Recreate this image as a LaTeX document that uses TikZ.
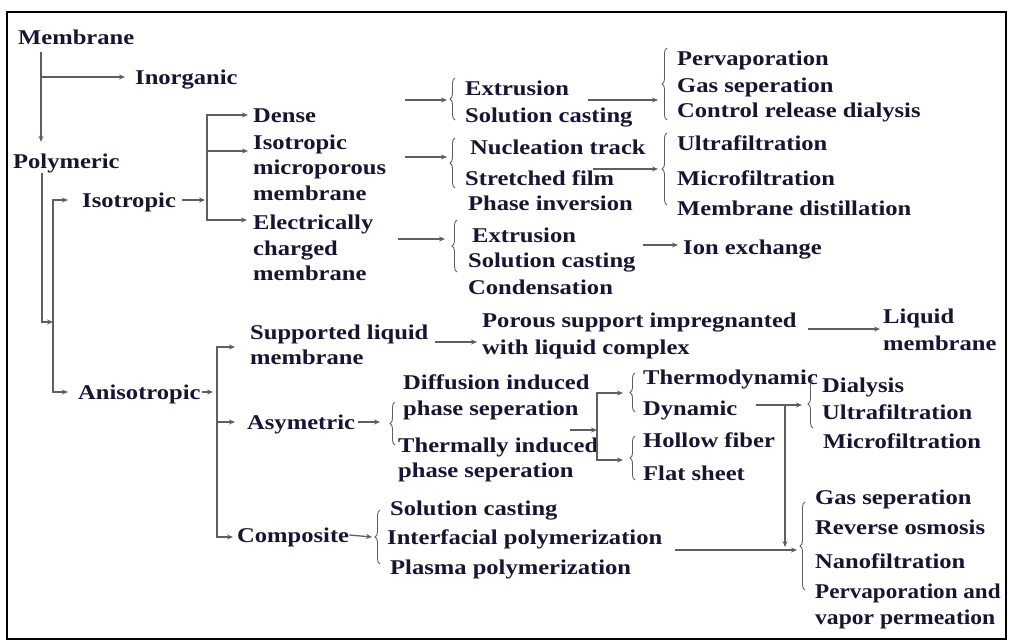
\documentclass[tikz,border=0pt]{standalone}
\usepackage{fontspec}
\setmainfont[FakeStretch=1.17]{Liberation Serif}
\usetikzlibrary{arrows.meta,decorations.pathreplacing,calc}
\definecolor{txt}{RGB}{22,22,48}
\definecolor{ln}{RGB}{95,95,95}
\begin{document}
\begin{tikzpicture}[x=1pt,y=-1pt,
  lbl/.style={anchor=west, inner sep=0pt, text height=14pt, text depth=0pt,
    font=\fontsize{21}{25}\selectfont\bfseries, text=txt},
  arr/.style={draw=ln, line width=1.3pt, -{Stealth[length=6pt,width=5pt]}},
  brc/.style={draw=ln, line width=0.9pt, decorate, decoration={brace, amplitude=5pt}}]
\useasboundingbox (0,0) rectangle (1010,641);
\fill[white] (0,0) rectangle (1010,641);
\draw[line width=2.5pt, black] (7,12) rectangle (1006,639);

% ---- nodes ----
\node[lbl] (memb) at (18,37) {Membrane};
\node[lbl] (inorg) at (135,77) {Inorganic};
\node[lbl] (poly) at (13,161) {Polymeric};
\node[lbl] (isot) at (82,200) {Isotropic};
\node[lbl] (aniso) at (78,392) {Anisotropic};
\node[lbl] (dense) at (253,115) {Dense};
\node[lbl] (isoA) at (253,142) {Isotropic};
\node[lbl] (isoB) at (253,167) {microporous};
\node[lbl] (isoC) at (253,193) {membrane};
\node[lbl] (elecA) at (253,222) {Electrically};
\node[lbl] (elecB) at (253,248) {charged};
\node[lbl] (elecC) at (253,273) {membrane};
\node[lbl] (ext1) at (465,88) {Extrusion};
\node[lbl] (sc1) at (465,115) {Solution casting};
\node[lbl] (perv) at (677,58) {Pervaporation};
\node[lbl] (gas1) at (677,85) {Gas seperation};
\node[lbl] (crd) at (677,110) {Control release dialysis};
\node[lbl] (nuc) at (470,147) {Nucleation track};
\node[lbl] (str) at (465,178) {Stretched film};
\node[lbl] (phinv) at (468,203) {Phase inversion};
\node[lbl] (uf1) at (677,143) {Ultrafiltration};
\node[lbl] (mf1) at (677,178) {Microfiltration};
\node[lbl] (md) at (677,208) {Membrane distillation};
\node[lbl] (ext2) at (472,235) {Extrusion};
\node[lbl] (sc2) at (468,260) {Solution casting};
\node[lbl] (cond) at (468,287) {Condensation};
\node[lbl] (ion) at (683,247) {Ion exchange};
\node[lbl] (slmA) at (250,332) {Supported liquid};
\node[lbl] (slmB) at (250,357) {membrane};
\node[lbl] (psA) at (482,320) {Porous support impregnanted};
\node[lbl] (psB) at (482,347) {with liquid complex};
\node[lbl] (lmA) at (883,316) {Liquid};
\node[lbl] (lmB) at (883,343) {membrane};
\node[lbl] (asym) at (247,422) {Asymetric};
\node[lbl] (comp) at (237,535) {Composite};
\node[lbl] (dif1) at (403,382) {Diffusion induced};
\node[lbl] (dif2) at (403,408) {phase seperation};
\node[lbl] (th1) at (398,445) {Thermally induced};
\node[lbl] (th2) at (398,470) {phase seperation};
\node[lbl] (thermo) at (643,377) {Thermodynamic};
\node[lbl] (dyn) at (643,408) {Dynamic};
\node[lbl] (hol) at (643,440) {Hollow fiber};
\node[lbl] (flat) at (643,473) {Flat sheet};
\node[lbl] (dia) at (822,385) {Dialysis};
\node[lbl] (uf2) at (822,412) {Ultrafiltration};
\node[lbl] (mf2) at (823,441) {Microfiltration};
\node[lbl] (sc3) at (390,508) {Solution casting};
\node[lbl] (ifp) at (387,537) {Interfacial polymerization};
\node[lbl] (pp) at (390,567) {Plasma polymerization};
\node[lbl] (gs2) at (815,497) {Gas seperation};
\node[lbl] (ro) at (815,527) {Reverse osmosis};
\node[lbl] (nf) at (815,561) {Nanofiltration};
\node[lbl, transform shape, xscale=0.94] (pva) at (815,591) {Pervaporation and};
\node[lbl, transform shape, xscale=0.96] (vp) at (815,617) {vapor permeation};

% ---- junction / brace coordinates ----
\coordinate (mJ) at (41,77);
\coordinate (pJ) at (53,322);
\coordinate (iJ) at (207,200);
\coordinate (aJ) at (217,392);
\coordinate (dJ) at (597,430);
\coordinate (vJ) at (785,405);
\coordinate (b1) at (455,100);
\coordinate (b2) at (667,100);
\coordinate (b3) at (455,157);
\coordinate (b4) at (667,169);
\coordinate (b5) at (457,239);
\coordinate (b6) at (395,422);
\coordinate (b7) at (635,393);
\coordinate (b8) at (635,460);
\coordinate (b9) at (813,405);
\coordinate (b10) at (805,550);
\coordinate (b11) at (380,537);

% ---- braces ----
\draw[brc] (455,120) -- (455,78);
\draw[brc] (667,120) -- (667,48);
\draw[brc] (455,188) -- (455,138);
\draw[brc] (667,205) -- (667,133);
\draw[brc] (457,272) -- (457,220);
\draw[brc] (395,445) -- (395,402);
\draw[brc] (635,412) -- (635,373);
\draw[brc] (635,480) -- (635,436);
\draw[brc] (813,428) -- (813,380);
\draw[brc] (805,590) -- (805,502);
\draw[brc] (380,564) -- (380,510);

% ---- connectors ----
\draw[arr] ([shift={(23,8)}]memb.south west) -- ([shift={(28,-12)}]poly.north west);
\draw[arr] (mJ) -- ([xshift=-10]inorg.west);
\draw[arr] ([shift={(29,5)}]poly.south west) |- (pJ);
\draw[arr] (pJ) |- ([xshift=-14]isot.west);
\draw[arr] (pJ) |- ([xshift=-10]aniso.west);
\draw[arr] ([xshift=6]isot.east) -- ([xshift=-2]iJ);
\draw[arr] (iJ) |- ([xshift=-5]dense.west);
\draw[arr] (iJ) |- ([shift={(-5,9)}]isoA.west);
\draw[arr] (iJ) |- ([shift={(-6,-2)}]elecA.west);
\draw[arr] ([xshift=-50]b1) -- ([xshift=-8]b1);
\draw[arr] ([xshift=-79]b2) -- ([xshift=-9]b2);
\draw[arr] ([xshift=-50]b3) -- ([xshift=-8]b3);
\draw[arr] ([xshift=-74]b4) -- ([xshift=-9]b4);
\draw[arr] ([xshift=-59]b5) -- ([xshift=-12]b5);
\draw[arr] ([shift={(7,-15)}]sc2.east) -- ([shift={(-5,-2)}]ion.west);
\draw[arr] ([xshift=1]aniso.east) -- ([xshift=-4]aJ);
\draw[arr] (aJ) |- ([shift={(-15,15)}]slmA.west);
\draw[arr] (aJ) |- ([xshift=-12]asym.west);
\draw[arr] (aJ) |- ([shift={(-4,2)}]comp.west);
\draw[arr] ([shift={(-47,22)}]psA.west) -- ([shift={(-5,22)}]psA.west);
\draw[arr] ([shift={(-75,13)}]lmA.west) -- ([shift={(-3,13)}]lmA.west);
\draw[arr] ([xshift=3]asym.east) -- ([xshift=-15]b6);
\draw[arr] ([xshift=-27]dJ) -- (dJ);
\draw[arr] (dJ) |- ([xshift=-12]b7);
\draw[arr] (dJ) |- ([xshift=-12]b8);
\draw[arr] ([shift={(18,-3)}]dyn.east) -- ([xshift=-11]b9);
\draw[arr] (vJ) -- ([shift={(-20,-3)}]b10);
\draw[arr] ([shift={(13,13)}]ifp.east) -- ([xshift=-8]b10);
\draw[arr] (comp.east) -- ([xshift=-8]b11);
\end{tikzpicture}
\end{document}
